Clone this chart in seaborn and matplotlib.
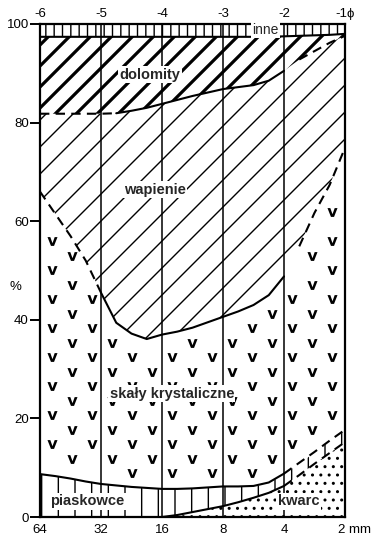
import numpy as np
import pandas as pd
import matplotlib
matplotlib.use("Agg")
import matplotlib.pyplot as plt
import matplotlib.transforms as mtransforms
from matplotlib.collections import LineCollection
import seaborn as sns

sns.set_theme(style="white")
plt.rcParams["font.family"] = ["Liberation Sans", "DejaVu Sans"]

##############################################################################
# Data (cumulative upper boundary of each layer, in %)
##############################################################################

phi = [-6, -5.75, -5.5, -5.25, -5, -4.75, -4.5, -4.25, -4, -3.75, -3.5,
       -3.25, -3, -2.75, -2.5, -2.25, -2, -1.75, -1.5, -1.25, -1]

kwarc_top = [0, 0, 0, 0, 0, 0, 0, 0, 0, 0.4, 1.0,
             1.6, 2.2, 3.0, 3.9, 4.9, 6.3, 8.5, 10.8, 13.0, 15.2]
piaskowce_top = [8.7, 8.3, 7.8, 7.2, 6.7, 6.4, 6.1, 5.9, 5.7, 5.7, 5.8,
                 6.0, 6.2, 6.2, 6.3, 7.0, 8.8, 11.0, 13.2, 15.5, 17.7]
krystaliczne_top = [66, 61.5, 57, 52, 45.5, 39.4, 37.2, 36.1, 37.0, 37.6, 38.4,
                    39.5, 40.6, 41.7, 43.0, 45.0, 48.8, 54.9, 61.7, 67.4, 74.9]
wapienie_top = [81.8, 81.8, 81.8, 81.8, 81.8, 81.9, 82.4, 83.0, 83.8, 84.6, 85.4,
                86.1, 86.8, 87.2, 87.6, 88.5, 90.5, 92.8, 94.5, 96.2, 97.6]
dolomity_top = [97.4, 97.4, 97.4, 97.4, 97.4, 97.4, 97.4, 97.4, 97.4, 97.4, 97.4,
                97.4, 97.4, 97.4, 97.4, 97.4, 97.5, 97.6, 97.7, 97.8, 98.0]
inne_top = [100] * len(phi)

phi_ticks = [-6, -5, -4, -3, -2, -1]
phi_labels = ["-6", "-5", "-4", "-3", "-2", "-1\u03d5"]
mm_labels = ["64", "32", "16", "8", "4", "2 mm"]
pct_ticks = [0, 20, 40, 60, 80, 100]

df = pd.DataFrame({
    "phi": phi,
    "kwarc": kwarc_top,
    "piaskowce": piaskowce_top,
    "krystaliczne": krystaliczne_top,
    "wapienie": wapienie_top,
    "dolomity": dolomity_top,
    "inne": inne_top,
})

##############################################################################
# Helpers
##############################################################################

def diag_hatch(ax, coll, spacing_px, lw):
    # 45 degree lines drawn in pixel space, clipped to the filled polygon
    W, H = ax.bbox.width, ax.bbox.height
    segs = []
    for c in np.arange(-W, H + spacing_px, spacing_px):
        segs.append([(0, c / H), (1, (W + c) / H)])
    lc = LineCollection(segs, transform=ax.transAxes, colors="black",
                        linewidths=lw, zorder=1.5)
    lc.set_clip_path(coll.get_paths()[0], ax.transData)
    ax.add_collection(lc, autolim=False)


def boundary(ax, col, pieces, lw=1.5):
    for lo, hi, ls in pieces:
        seg = df[(df["phi"] >= lo) & (df["phi"] <= hi)]
        style = "-" if ls == "-" else (0, (4.5, 3))
        sns.lineplot(data=seg, x="phi", y=col, color="black", linewidth=lw,
                     linestyle=style, ax=ax, zorder=3, sort=False)

##############################################################################
# Figure
##############################################################################

fig = plt.figure(figsize=(3.81, 5.43), dpi=100)
ax = fig.add_axes([40 / 381, 26 / 543, 305 / 381, 493 / 543])
ax.set_xlim(-6, -1)
ax.set_ylim(0, 100)

zero = np.zeros(len(phi))
fill_kw = dict(facecolor="white", linewidth=0, zorder=1)

ax.fill_between(df["phi"], zero, df["kwarc"], edgecolor="black", hatch="..", **fill_kw)
ax.fill_between(df["phi"], df["kwarc"], df["piaskowce"], edgecolor="black", hatch="|", **fill_kw)
ax.fill_between(df["phi"], df["piaskowce"], df["krystaliczne"], **fill_kw)
wap = ax.fill_between(df["phi"], df["krystaliczne"], df["wapienie"], **fill_kw)
dol = ax.fill_between(df["phi"], df["wapienie"], df["dolomity"], **fill_kw)
ax.fill_between(df["phi"], df["dolomity"], df["inne"], edgecolor="black", hatch="||", **fill_kw)

diag_hatch(ax, wap, 27, 1.0)
diag_hatch(ax, dol, 21, 2.3)

# "v" texture for crystalline rocks
W, H = ax.bbox.width, ax.bbox.height
dx = 40 * 5 / W
dy = 14.5 * 100 / H
vx, vy = [], []
for j, yy in enumerate(np.arange(3.0, 100, dy)):
    start = -5.8 + (dx / 2 if j % 2 else 0)
    for xx in np.arange(start, -1.05, dx):
        lo = np.interp(xx, phi, piaskowce_top) + 2.2
        hi = np.interp(xx, phi, krystaliczne_top) - 2.2
        if lo < yy < hi:
            vx.append(xx)
            vy.append(yy)
sns.scatterplot(x=vx, y=vy, marker=r"$\mathbf{v}$", s=52, color="black",
                linewidth=0, ax=ax, zorder=2, legend=False)

boundary(ax, "kwarc", [(-4, -2, "-"), (-2, -1, "--")])
boundary(ax, "piaskowce", [(-6, -2, "-"), (-2, -1, "--")])
boundary(ax, "krystaliczne", [(-6, -5, "--"), (-5, -2, "-"), (-1.75, -1, "--")])
boundary(ax, "wapienie", [(-6, -4.75, "--"), (-4.75, -2, "-"), (-1.75, -1, "--")])
boundary(ax, "dolomity", [(-6, -1, "-")])

for x in phi_ticks[1:-1]:
    ax.axvline(x, color="black", linewidth=1.1, zorder=2.5)

# labels
box = dict(facecolor="white", edgecolor="none", boxstyle="square,pad=0.1")
ax.text(-2.30, 98.8, "inne", ha="center", va="center", fontsize=10, bbox=box, zorder=5)
ax.text(-4.20, 89.7, "dolomity", ha="center", va="center", fontsize=10.5,
        fontweight="bold", bbox=box, zorder=5)
ax.text(-4.12, 66.4, "wapienie", ha="center", va="center", fontsize=10.5,
        fontweight="bold", bbox=box, zorder=5)
ax.text(-3.84, 25.0, "skały krystaliczne", ha="center", va="center", fontsize=10.5,
        fontweight="bold", bbox=box, zorder=5)
ax.text(-5.22, 3.2, "piaskowce", ha="center", va="center", fontsize=10.5,
        fontweight="bold", bbox=box, zorder=5)
ax.text(-1.76, 3.2, "kwarc", ha="center", va="center", fontsize=10.5,
        fontweight="bold", bbox=box, zorder=5)
ax.text(-0.082, 0.467, "%", transform=ax.transAxes, ha="center", va="center",
        fontsize=9.5, color="black")

# axes styling
for s in ax.spines.values():
    s.set_visible(True)
    s.set_color("black")
    s.set_linewidth(1.6)
    s.set_zorder(4)

ax.set_xlabel("")
ax.set_ylabel("")
ax.set_yticks(pct_ticks, [str(v) for v in pct_ticks])
ax.tick_params(axis="y", left=True, length=7, width=1.4, color="black",
               labelsize=9.5, labelcolor="black", pad=1)
ax.set_xticks(phi_ticks, mm_labels)
ax.tick_params(axis="x", bottom=False, length=0, labelsize=9.5,
               labelcolor="black", pad=5)
last = ax.get_xticklabels()[-1]
last.set_horizontalalignment("left")
last.set_transform(last.get_transform()
                   + mtransforms.ScaledTranslation(-7 / 100, 0, fig.dpi_scale_trans))

secax = ax.secondary_xaxis("top")
secax.set_xticks(phi_ticks, phi_labels)
secax.tick_params(length=0, labelsize=9.5, labelcolor="black", pad=3)
secax.spines["top"].set_visible(False)

fig.savefig("out.png", dpi=100)
